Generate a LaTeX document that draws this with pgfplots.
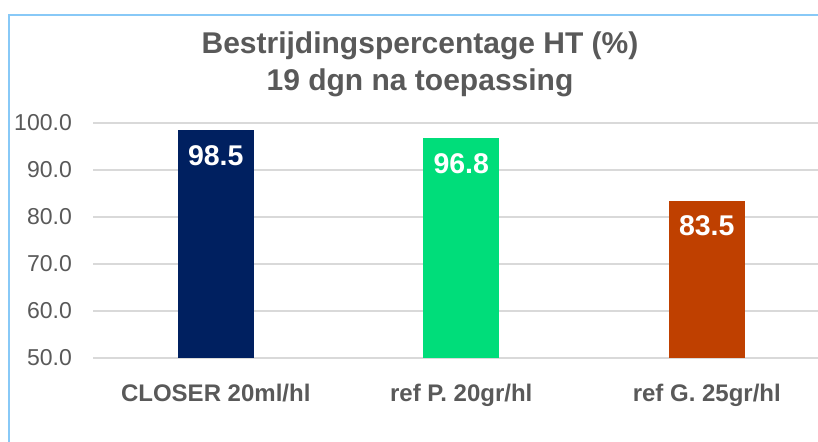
\documentclass[border=0pt]{standalone}
\usepackage{pgfplots}
\pgfplotsset{compat=1.18}
\usepackage{fontspec}
\setmainfont{Liberation Sans}
\definecolor{txtgray}{HTML}{595959}
\definecolor{gridgray}{HTML}{D9D9D9}
\definecolor{frameblue}{HTML}{88C9F7}
\definecolor{cnavy}{HTML}{002060}
\definecolor{cgreen}{HTML}{00DD7A}
\definecolor{corange}{HTML}{BF4000}
\begin{document}
\begin{tikzpicture}
\path[use as bounding box] (0bp,0bp) rectangle (818bp,-442bp);
\draw[frameblue, line width=2.4bp] (9bp,-445bp) -- (9bp,-15bp) -- (820bp,-15bp);
\node[anchor=base, text=txtgray, font=\fontsize{30bp}{34bp}\selectfont\bfseries, inner sep=0pt] at (420bp,-53bp) {Bestrijdingspercentage HT (\%)};
\node[anchor=base, text=txtgray, font=\fontsize{30bp}{34bp}\selectfont\bfseries, inner sep=0pt] at (420bp,-90bp) {19 dgn na toepassing};
\begin{axis}[
  at={(93bp,-358bp)}, anchor=south west,
  width=725bp, height=235bp, scale only axis,
  xmin=-0.5, xmax=2.453,
  ymin=50, ymax=100,
  ytick={50,60,70,80,90,100},
  xtick={0,1,2},
  xticklabels={CLOSER 20ml/hl, ref P. 20gr/hl, ref G. 25gr/hl},
  axis line style={draw=none},
  major tick style={draw=none},
  ymajorgrids,
  grid style={gridgray, line width=1.6bp},
  clip=false,
  yticklabel style={font=\fontsize{23bp}{27bp}\selectfont, text=txtgray, anchor=east, inner sep=0pt, xshift=-21bp,
    /pgf/number format/.cd, fixed, fixed zerofill, precision=1, assume math mode=true},
  xticklabel style={font=\fontsize{24bp}{28bp}\selectfont\bfseries, text=txtgray, anchor=base, inner sep=0pt, yshift=-39bp},
  ybar, bar width=76bp, bar shift=0bp,
  nodes near coords,
  nodes near coords style={font=\fontsize{28.5bp}{34bp}\selectfont\bfseries, text=white, anchor=north, inner sep=0pt, yshift=-15bp,
    /pgf/number format/.cd, fixed, fixed zerofill, precision=1, assume math mode=true},
]
\addplot[fill=cnavy, draw=none] coordinates {(0,98.5)};
\addplot[fill=cgreen, draw=none] coordinates {(1,96.8)};
\addplot[fill=corange, draw=none] coordinates {(2,83.5)};
\end{axis}
\end{tikzpicture}
\end{document}
